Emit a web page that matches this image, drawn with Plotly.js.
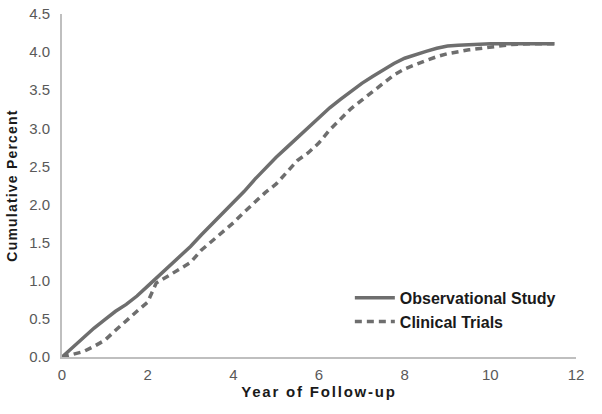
<!DOCTYPE html>
<html>
<head>
<meta charset="utf-8">
<script src="https://cdn.plot.ly/plotly-3.0.1.min.js"></script>
<style>
  html, body { margin: 0; padding: 0; background: #fff; }
  #chart { width: 602px; height: 414px; }
  .ytitle { letter-spacing: 1.2px; }
  .xtitle { letter-spacing: 1.8px; }
</style>
</head>
<body>
<div id="chart"></div>
<script>
// values
const obsYears = [0, 0.25, 0.5, 0.75, 1.0, 1.25, 1.5, 1.75, 2.0, 2.25, 2.5, 2.75, 3.0, 3.25, 3.5, 3.75, 4.0, 4.25, 4.5, 4.75, 5.0, 5.25, 5.5, 5.75, 6.0, 6.25, 6.5, 6.75, 7.0, 7.25, 7.5, 7.75, 8.0, 8.25, 8.5, 8.75, 9.0, 9.25, 9.5, 10, 10.5, 11, 11.5];
const obsPct = [0, 0.13, 0.26, 0.38, 0.49, 0.6, 0.69, 0.8, 0.93, 1.06, 1.18, 1.31, 1.45, 1.6, 1.74, 1.88, 2.03, 2.17, 2.33, 2.48, 2.62, 2.75, 2.88, 3.01, 3.14, 3.27, 3.38, 3.49, 3.59, 3.68, 3.77, 3.85, 3.92, 3.97, 4.01, 4.05, 4.08, 4.09, 4.1, 4.11, 4.11, 4.11, 4.11];

const trialYears = [0, 0.25, 0.5, 0.75, 1.0, 1.25, 1.5, 1.75, 2.0, 2.2, 2.5, 2.75, 3.0, 3.25, 3.5, 3.75, 4.0, 4.25, 4.5, 4.75, 5.0, 5.25, 5.5, 5.75, 6.0, 6.25, 6.5, 6.75, 7.0, 7.25, 7.5, 7.75, 8.0, 8.25, 8.5, 8.75, 9.0, 9.5, 10, 10.5, 11, 11.5];
const trialPct = [0, 0.03, 0.07, 0.14, 0.22, 0.35, 0.48, 0.6, 0.72, 0.97, 1.07, 1.16, 1.24, 1.4, 1.52, 1.63, 1.76, 1.9, 2.03, 2.16, 2.27, 2.42, 2.58, 2.68, 2.81, 2.98, 3.12, 3.26, 3.37, 3.48, 3.6, 3.7, 3.78, 3.84, 3.89, 3.94, 3.98, 4.03, 4.07, 4.1, 4.11, 4.11];

const lineColor = '#6e6e6e';
const axisColor = '#bfbfbf';

const traces = [
  {
    type: 'scatter', mode: 'lines', name: 'Observational Study',
    x: obsYears, y: obsPct,
    line: { color: lineColor, width: 3.5 }
  },
  {
    type: 'scatter', mode: 'lines', name: 'Clinical Trials',
    x: trialYears, y: trialPct,
    line: { color: lineColor, width: 3.5, dash: '7px,5px' }
  }
];

const layout = {
  width: 602, height: 414,
  paper_bgcolor: '#fff', plot_bgcolor: '#fff',
  margin: { l: 62, r: 26, t: 14, b: 57 },
  font: { family: 'Liberation Sans, Arial, sans-serif', color: '#595959', size: 15 },
  showlegend: true,
  legend: {
    x: 0.56, y: 0.222, xanchor: 'left', yanchor: 'top',
    bgcolor: 'rgba(0,0,0,0)', tracegroupgap: 0,
    font: { size: 16, color: '#1a1a1a', weight: 'bold' },
    itemwidth: 40
  },
  xaxis: {
    range: [0, 12], dtick: 2, tick0: 0,
    showgrid: false, zeroline: false,
    showline: true, linecolor: axisColor, linewidth: 2,
    ticks: '', ticklabelstandoff: 3,
    tickfont: { size: 15, color: '#595959' },
    title: { text: 'Year of Follow-up', standoff: 4, font: { size: 15, color: '#1a1a1a', weight: 'bold' } }
  },
  yaxis: {
    range: [0, 4.5], dtick: 0.5, tick0: 0, tickformat: '.1f',
    showgrid: false, zeroline: false,
    showline: true, linecolor: axisColor, linewidth: 2,
    ticks: '', ticklabelstandoff: 7,
    tickfont: { size: 15, color: '#595959' },
    title: { text: 'Cumulative Percent', standoff: 8, font: { size: 14, color: '#1a1a1a', weight: 'bold' } }
  }
};

Plotly.newPlot('chart', traces, layout, { displayModeBar: false, staticPlot: true });
</script>
</body>
</html>
